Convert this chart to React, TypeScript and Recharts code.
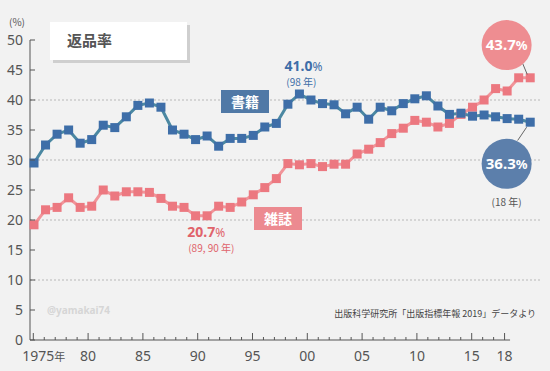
import React from 'react';
import { LineChart, Line, XAxis, YAxis, ReferenceLine, ReferenceDot } from 'recharts';

const years = [
  1975, 1976, 1977, 1978, 1979, 1980, 1981, 1982, 1983, 1984,
  1985, 1986, 1987, 1988, 1989, 1990, 1991, 1992, 1993, 1994,
  1995, 1996, 1997, 1998, 1999, 2000, 2001, 2002, 2003, 2004,
  2005, 2006, 2007, 2008, 2009, 2010, 2011, 2012, 2013, 2014,
  2015, 2016, 2017, 2018,
];

const books = [
  29.5, 32.5, 34.3, 35.0, 32.8, 33.4, 35.8, 35.4, 37.2, 39.1,
  39.5, 38.8, 35.0, 34.3, 33.4, 34.0, 32.3, 33.6, 33.6, 34.1,
  35.5, 36.1, 39.3, 41.0, 40.0, 39.4, 39.2, 37.7, 38.8, 36.8,
  38.8, 38.2, 39.4, 40.2, 40.7, 39.0, 37.6, 37.8, 37.3, 37.5,
  37.2, 36.9, 36.8, 36.3,
];

const magazines = [
  19.2, 21.7, 22.1, 23.7, 22.1, 22.3, 25.0, 24.0, 24.7, 24.7,
  24.6, 23.6, 22.3, 22.1, 20.7, 20.7, 22.3, 22.1, 23.0, 24.2,
  25.4, 26.9, 29.4, 29.2, 29.4, 28.9, 29.3, 29.3, 31.0, 31.8,
  32.9, 34.4, 35.3, 36.6, 36.3, 35.5, 36.1, 37.6, 38.8, 40.0,
  41.9, 41.5, 43.7, 43.7,
];

const yTicks = [0, 5, 10, 15, 20, 25, 30, 35, 40, 45, 50];
const gridValues = [10, 20, 30, 40];
const majorYears = [1975, 1980, 1985, 1990, 1995, 2000, 2005, 2010, 2015, 2018];
const majorLabels = ['1975', '80', '85', '90', '95', '00', '05', '10', '15', '18'];

const bookPeak = { year: 1998, value: 41.0, label: '41.0', note: '(98 年)' };
const magLow = { year: 1989.5, value: 20.7, label: '20.7', note: '(89, 90 年)' };
const bookLast = { year: 2018, value: 36.3, label: '36.3', note: '(18 年)' };
const magLast = { year: 2018, value: 43.7, label: '43.7' };

const data = years.map((y, i) => ({ year: y, book: books[i], magazine: magazines[i] }));

const FONT = "'Noto Sans', 'Noto Sans CJK JP', sans-serif";
const JP = "'Noto Sans CJK JP', 'Noto Sans', sans-serif";
const AXIS = '#555';
const BLUE_LINE = '#4b88a2';
const BLUE_DOT = '#3e6ea8';
const RED_LINE = '#f1959a';
const RED_DOT = '#ec7880';

const squareDot = (fill: string) => (props: any) => {
  const { cx, cy, index } = props;
  if (cx == null || cy == null) return <g key={index} />;
  return <rect key={index} x={cx - 4.5} y={cy - 4.5} width={9} height={9} fill={fill} />;
};

const XTick = (props: any) => {
  const { x, y, payload } = props;
  const v = payload.value;
  const mi = majorYears.indexOf(v);
  const major = mi >= 0;
  return (
    <g>
      <line x1={x} x2={x} y1={y} y2={y - (major ? 7 : 3)} stroke={AXIS} strokeWidth={1} />
      {major && mi === 0 && (
        <text x={x - 11} y={y + 21} textAnchor="start" fontSize={14} fill={AXIS} fontFamily={FONT}>
          {majorLabels[mi]}
          <tspan fontSize={11} fontFamily={JP}>年</tspan>
        </text>
      )}
      {major && mi > 0 && (
        <text x={x} y={y + 21} textAnchor="middle" fontSize={14} fill={AXIS} fontFamily={FONT}>
          {majorLabels[mi]}
        </text>
      )}
    </g>
  );
};

const YTick = (props: any) => {
  const { x, y, payload } = props;
  return (
    <g>
      <line x1={x} x2={x + 5} y1={y} y2={y} stroke={AXIS} strokeWidth={1} />
      <text x={x - 7} y={y + 5} textAnchor="end" fontSize={14} fill={AXIS} fontFamily={FONT}>
        {payload.value}
      </text>
    </g>
  );
};

export default function App() {
  return (
    <div
      style={{
        position: 'absolute',
        left: 0,
        top: 0,
        width: 550,
        height: 371,
        background: '#f2f2f2',
        overflow: 'hidden',
        fontFamily: FONT,
      }}
    >
      <LineChart width={550} height={371} data={data} margin={{ top: 40, right: 10, bottom: 0, left: 0 }}>
        <XAxis
          xAxisId="data"
          dataKey="year"
          type="number"
          orientation="top"
          height={0}
          domain={[1974.653, 2018.847]}
          hide
        />
        <XAxis
          xAxisId="ticks"
          type="number"
          dataKey="year"
          domain={[1974.699, 2021.232]}
          ticks={years}
          interval={0}
          height={31}
          axisLine={false}
          tickLine={false}
          tickSize={0}
          tickMargin={0}
          tick={<XTick />}
          allowDataOverflow
        />
        <YAxis
          type="number"
          domain={[0, 50]}
          ticks={yTicks}
          interval={0}
          width={30}
          axisLine={{ stroke: AXIS, strokeWidth: 1 }}
          tickLine={false}
          tickSize={0}
          tickMargin={0}
          tick={<YTick />}
        />
        {gridValues.map((g) => (
          <ReferenceLine
            key={g}
            xAxisId="data"
            y={g}
            stroke="#b8b8b8"
            strokeWidth={1}
            strokeDasharray="2 2"
          />
        ))}
        <ReferenceLine
          xAxisId="ticks"
          segment={[{ x: 1974.699, y: 0 }, { x: 2018.5, y: 0 }]}
          stroke={AXIS}
          strokeWidth={1}
          ifOverflow="visible"
        />
        <Line
          xAxisId="data"
          dataKey="magazine"
          stroke={RED_LINE}
          strokeWidth={3}
          dot={squareDot(RED_DOT)}
          activeDot={false}
          isAnimationActive={false}
        />
        <Line
          xAxisId="data"
          dataKey="book"
          stroke={BLUE_LINE}
          strokeWidth={3}
          dot={squareDot(BLUE_DOT)}
          activeDot={false}
          isAnimationActive={false}
        />
        <ReferenceDot
          xAxisId="data"
          x={bookPeak.year}
          y={bookPeak.value}
          r={0}
          ifOverflow="visible"
          shape={(p: any) => (
            <g>
              <text x={p.cx + 4} y={p.cy - 23} textAnchor="middle" fill={BLUE_DOT} fontFamily={FONT} fontWeight="bold" fontSize={14}>
                {bookPeak.label}
                <tspan fontSize={12} fontWeight="normal">%</tspan>
              </text>
              <text x={p.cx + 2} y={p.cy - 8} textAnchor="middle" fill={BLUE_DOT} fontFamily={JP} fontSize={10}>
                {bookPeak.note}
              </text>
            </g>
          )}
        />
        <ReferenceDot
          xAxisId="data"
          x={magLow.year}
          y={magLow.value}
          r={0}
          ifOverflow="visible"
          shape={(p: any) => (
            <g>
              <text x={p.cx + 5} y={p.cy + 21} textAnchor="middle" fill="#e0636b" fontFamily={FONT} fontWeight="bold" fontSize={14}>
                {magLow.label}
                <tspan fontSize={12} fontWeight="normal">%</tspan>
              </text>
              <text x={p.cx + 10} y={p.cy + 36} textAnchor="middle" fill="#e0636b" fontFamily={JP} fontSize={10}>
                {magLow.note}
              </text>
            </g>
          )}
        />
        <ReferenceDot
          xAxisId="data"
          x={magLast.year}
          y={magLast.value}
          r={0}
          ifOverflow="visible"
          shape={(p: any) => (
            <g>
              <line x1={p.cx - 3} y1={p.cy - 3.4} x2={p.cx - 7.6} y2={p.cy - 14.4} stroke="#666" strokeWidth={1} />
              <circle cx={p.cx - 23.6} cy={p.cy - 32.7} r={25} fill="#ee8d91" />
              <text x={p.cx - 23.6} y={p.cy - 27.5} textAnchor="middle" fill="#fff" fontFamily={FONT} fontWeight="bold" fontSize={15}>
                {magLast.label}
                <tspan fontSize={13}>%</tspan>
              </text>
            </g>
          )}
        />
        <ReferenceDot
          xAxisId="data"
          x={bookLast.year}
          y={bookLast.value}
          r={0}
          ifOverflow="visible"
          shape={(p: any) => (
            <g>
              <line x1={p.cx - 3.6} y1={p.cy + 5} x2={p.cx - 12.6} y2={p.cy + 18.3} stroke="#666" strokeWidth={1} />
              <circle cx={p.cx - 23.6} cy={p.cy + 41.6} r={25} fill="#5c7fab" />
              <text x={p.cx - 23.6} y={p.cy + 46.8} textAnchor="middle" fill="#fff" fontFamily={FONT} fontWeight="bold" fontSize={15}>
                {bookLast.label}
                <tspan fontSize={13}>%</tspan>
              </text>
              <text x={p.cx - 23.6} y={p.cy + 83.5} textAnchor="middle" fill="#555" fontFamily={JP} fontSize={10}>
                {bookLast.note}
              </text>
            </g>
          )}
        />
      </LineChart>

      <div style={{ position: 'absolute', left: 9, top: 14, fontSize: 10, color: '#555', fontFamily: JP }}>(%)</div>

      <div
        style={{
          position: 'absolute',
          left: 50,
          top: 22,
          width: 137,
          height: 38,
          background: '#fff',
          boxShadow: '3px 3px 0 #cfcfcf',
        }}
      >
        <div style={{ position: 'absolute', left: 17, top: 8, fontSize: 15, fontWeight: 'bold', color: '#555', fontFamily: JP, lineHeight: '20px' }}>
          返品率
        </div>
      </div>

      <div
        style={{
          position: 'absolute',
          left: 221,
          top: 90,
          width: 48,
          height: 23,
          background: '#5079a6',
          color: '#fff',
          fontFamily: JP,
          fontWeight: 'bold',
          fontSize: 14,
          lineHeight: '23px',
          textAlign: 'center',
        }}
      >
        書籍
      </div>

      <div
        style={{
          position: 'absolute',
          left: 254,
          top: 207,
          width: 48,
          height: 23,
          background: '#ec8a90',
          color: '#fff',
          fontFamily: JP,
          fontWeight: 'bold',
          fontSize: 14,
          lineHeight: '23px',
          textAlign: 'center',
        }}
      >
        雑誌
      </div>

      <div style={{ position: 'absolute', left: 47, top: 303, fontSize: 10, fontWeight: 'bold', color: '#d6d6d6', fontFamily: FONT }}>
        @yamakai74
      </div>

      <div
        style={{
          position: 'absolute',
          right: 14,
          top: 307,
          fontSize: 9,
          color: '#444',
          fontFamily: JP,
          whiteSpace: 'nowrap',
        }}
      >
        出版科学研究所「出版指標年報 2019」データより
      </div>
    </div>
  );
}
